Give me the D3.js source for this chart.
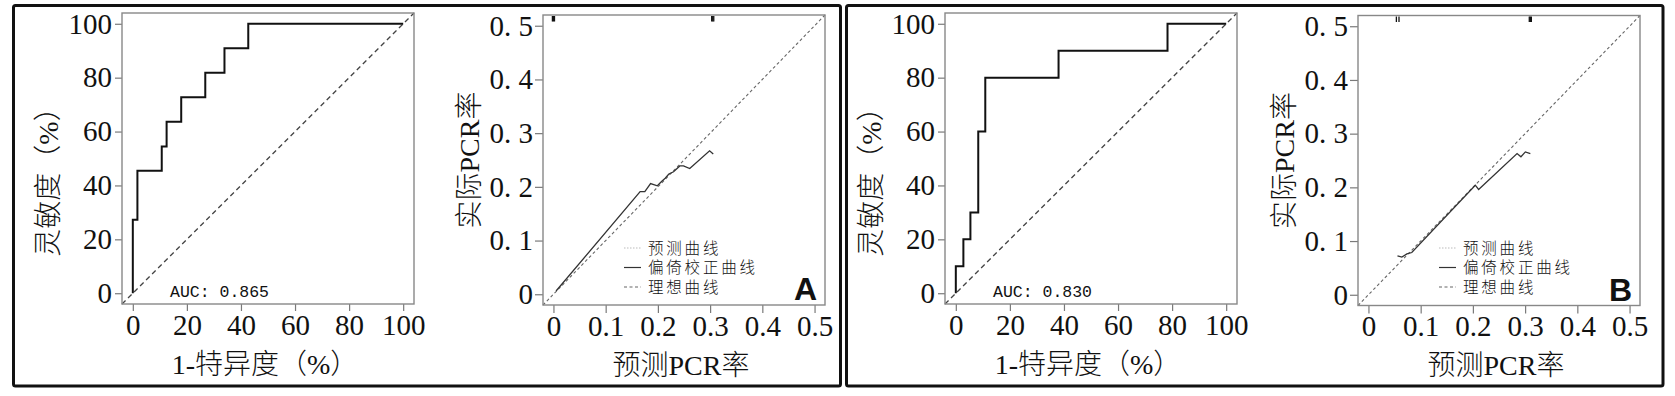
<!DOCTYPE html>
<html>
<head>
<meta charset="utf-8">
<script src="https://cdn.jsdelivr.net/npm/d3@7"></script>
<style>
  body { margin: 0; background: #fff; }
  svg { display: block; }
</style>
</head>
<body>
<div id="chart"></div>
<script>
// ROC data (1 - specificity, sensitivity), step corners in %
const rocAFpr = [0, 0, 1.7, 10.7, 12.5, 17.9, 26.8, 33.9, 42.7, 100]
const rocATpr = [0, 27.3, 45.5, 54.5, 63.6, 72.7, 81.8, 90.9, 100, 100]
const rocBFpr = [0, 0, 2.8, 5.4, 8.3, 10.9, 38.0, 78.3, 100]
const rocBTpr = [0, 10, 20, 30, 60, 80, 90, 100, 100]
const aucA = "AUC: 0.865"
const aucB = "AUC: 0.830"

// calibration curves (bias corrected): predicted vs observed PCR rate
const calAPred = [0.005, 0.166, 0.175, 0.186, 0.199, 0.207, 0.214, 0.221, 0.230, 0.242, 0.249, 0.261, 0.299, 0.306]
const calAObs  = [0.006, 0.191, 0.191, 0.206, 0.202, 0.210, 0.216, 0.224, 0.228, 0.239, 0.239, 0.234, 0.267, 0.261]
const calBPred = [0.0556, 0.064, 0.0736, 0.083, 0.2046, 0.211, 0.2846, 0.292, 0.3005, 0.310]
const calBObs  = [0.0724, 0.070, 0.076, 0.0786, 0.204, 0.196, 0.263, 0.257, 0.266, 0.263]

// rug of predicted values along the top
const rugA = [-0.002, 0.0, 0.002, 0.303, 0.305, 0.307]
const rugB = [0.0535, 0.0585, 0.308, 0.310, 0.312]

// tick values and texts
const rocTicks = [0, 20, 40, 60, 80, 100]
const calTicks = [0, 0.1, 0.2, 0.3, 0.4, 0.5]
const rocDomain = [-4, 104]
const calDomain = [-0.02, 0.52]
const legendLabels = ["预测曲线", "偏倚校正曲线", "理想曲线"]
const rocXTitle = "1-特异度（%）"
const rocYTitle = "灵敏度（%）"
const calXTitle = "预测PCR率"
const calYTitle = "实际PCR率"

const width = 1675, height = 396
const serif = "'Liberation Serif', 'Noto Sans CJK SC', serif"

const svg = d3.select("#chart").append("svg")
    .attr("width", width)
    .attr("height", height)

// outer frames
svg.append("rect")
    .attr("x", 13.5).attr("y", 5.5).attr("width", 827).attr("height", 380.5)
    .attr("rx", 2)
    .attr("fill", "none").attr("stroke", "#111").attr("stroke-width", 3)
svg.append("rect")
    .attr("x", 846.5).attr("y", 5.5).attr("width", 816.5).attr("height", 380.5)
    .attr("rx", 2)
    .attr("fill", "none").attr("stroke", "#111").attr("stroke-width", 3)

function styleAxis(g) {
    g.select(".domain").remove()
    g.selectAll(".tick line").attr("stroke", "#7a7a7a").attr("stroke-width", 1.2)
    g.selectAll(".tick text")
        .attr("fill", "#111")
        .style("font-family", serif)
        .style("font-size", "29px")
}

function drawBox(left, top, w, h) {
    svg.append("rect")
        .attr("x", left).attr("y", top).attr("width", w).attr("height", h)
        .attr("fill", "none").attr("stroke", "#888").attr("stroke-width", 1.4)
}

function drawTitles(left, top, w, h, xTitle, yTitle, yOffset) {
    svg.append("text")
        .attr("x", left + w / 2 - 3)
        .attr("y", top + h + 60)
        .attr("dy", "0.35em")
        .attr("text-anchor", "middle")
        .style("font-family", serif)
        .style("font-size", "28px")
        .style("font-weight", 300)
        .attr("fill", "#111")
        .text(xTitle)
    svg.append("text")
        .attr("transform", "translate(" + (left - 74) + "," + (top + h / 2 + yOffset) + ") rotate(-90)")
        .attr("dy", "0.35em")
        .attr("text-anchor", "middle")
        .style("font-family", serif)
        .style("font-size", "28px")
        .style("font-weight", 300)
        .attr("fill", "#111")
        .text(yTitle)
}

function drawRoc(left, top, w, h, fpr, tpr, auc) {
    const x = d3.scaleLinear().domain(rocDomain).range([left, left + w])
    const y = d3.scaleLinear().domain(rocDomain).range([top + h, top])

    svg.append("g")
        .attr("transform", "translate(" + left + ",0)")
        .call(d3.axisLeft(y).tickValues(rocTicks).tickSize(7).tickPadding(3).tickFormat(d3.format("d")))
        .call(styleAxis)
    svg.append("g")
        .attr("transform", "translate(0," + (top + h) + ")")
        .call(d3.axisBottom(x).tickValues(rocTicks).tickSize(7).tickPadding(3).tickFormat(d3.format("d")))
        .call(styleAxis)

    // reference diagonal
    svg.append("line")
        .attr("x1", x(rocDomain[0])).attr("y1", y(rocDomain[0]))
        .attr("x2", x(rocDomain[1])).attr("y2", y(rocDomain[1]))
        .attr("stroke", "#444").attr("stroke-width", 1.3)
        .attr("stroke-dasharray", "5,3.5")

    const pts = fpr.map(function(d, i) { return [d, tpr[i]] })
    svg.append("path")
        .datum(pts)
        .attr("fill", "none")
        .attr("stroke", "#111")
        .attr("stroke-width", 2)
        .attr("d", d3.line()
            .curve(d3.curveStepAfter)
            .x(function(d) { return x(d[0]) })
            .y(function(d) { return y(d[1]) }))

    svg.append("text")
        .attr("x", left + 48).attr("y", top + h - 7)
        .style("font-family", "'Liberation Mono', monospace")
        .style("font-size", "16.5px")
        .attr("fill", "#111")
        .text(auc)

    drawBox(left, top, w, h)
    drawTitles(left, top, w, h, rocXTitle, rocYTitle, 16.5)
}

function drawCal(left, top, w, h, pred, obs, rug, tag) {
    const x = d3.scaleLinear().domain(calDomain).range([left, left + w])
    const y = d3.scaleLinear().domain(calDomain).range([top + h, top])

    svg.append("g")
        .attr("transform", "translate(" + left + ",0)")
        .call(d3.axisLeft(y).tickValues(calTicks).tickSize(8).tickPadding(2)
            .tickFormat(function(d) { return d === 0 ? "0" : d3.format(".1f")(d).replace(".", ". ") }))
        .call(styleAxis)
    svg.append("g")
        .attr("transform", "translate(0," + (top + h) + ")")
        .call(d3.axisBottom(x).tickValues(calTicks).tickSize(8).tickPadding(2)
            .tickFormat(function(d) { return d === 0 ? "0" : d3.format(".1f")(d) }))
        .call(styleAxis)

    // ideal line
    svg.append("line")
        .attr("x1", x(calDomain[0])).attr("y1", y(calDomain[0]))
        .attr("x2", x(calDomain[1])).attr("y2", y(calDomain[1]))
        .attr("stroke", "#666").attr("stroke-width", 1.1)
        .attr("stroke-dasharray", "3,2.5")

    const pts = pred.map(function(d, i) { return [d, obs[i]] })
    svg.append("path")
        .datum(pts)
        .attr("fill", "none")
        .attr("stroke", "#333")
        .attr("stroke-width", 1.3)
        .attr("d", d3.line()
            .x(function(d) { return x(d[0]) })
            .y(function(d) { return y(d[1]) }))

    // rug
    svg.selectAll(null)
        .data(rug)
        .enter().append("line")
        .attr("x1", function(d) { return x(d) })
        .attr("x2", function(d) { return x(d) })
        .attr("y1", top + 1)
        .attr("y2", top + 6.5)
        .attr("stroke", "#111")
        .attr("stroke-width", 1.3)

    // legend
    const dashes = ["1.5,1.5", null, "3,2.5"]
    const colors = ["#bbb", "#333", "#666"]
    legendLabels.forEach(function(label, i) {
        const ly = 248 + i * 19.5
        svg.append("line")
            .attr("x1", left + 81).attr("x2", left + 98)
            .attr("y1", ly).attr("y2", ly)
            .attr("stroke", colors[i])
            .attr("stroke-width", 1.2)
            .attr("stroke-dasharray", dashes[i])
        svg.append("text")
            .attr("x", left + 105).attr("y", ly)
            .attr("dy", "0.36em")
            .style("font-family", "'Noto Sans CJK SC', sans-serif")
            .style("font-size", "15.5px")
            .style("font-weight", 300)
            .style("letter-spacing", "2.8px")
            .attr("fill", "#111")
            .text(label)
    })

    svg.append("text")
        .attr("x", left + w - 8).attr("y", top + h - 5)
        .attr("text-anchor", "end")
        .style("font-family", "'Liberation Sans Narrow', 'Liberation Sans', sans-serif")
        .style("font-size", "32px")
        .style("font-weight", "bold")
        .attr("fill", "#111")
        .text(tag)

    drawBox(left, top, w, h)
    drawTitles(left, top, w, h, calXTitle, calYTitle, 0)
}

drawRoc(122, 13, 292, 291, rocAFpr, rocATpr, aucA)
drawCal(543, 15, 282, 290, calAPred, calAObs, rugA, "A")
drawRoc(945, 13, 292, 291, rocBFpr, rocBTpr, aucB)
drawCal(1358, 15.5, 282, 290, calBPred, calBObs, rugB, "B")
</script>
</body>
</html>
